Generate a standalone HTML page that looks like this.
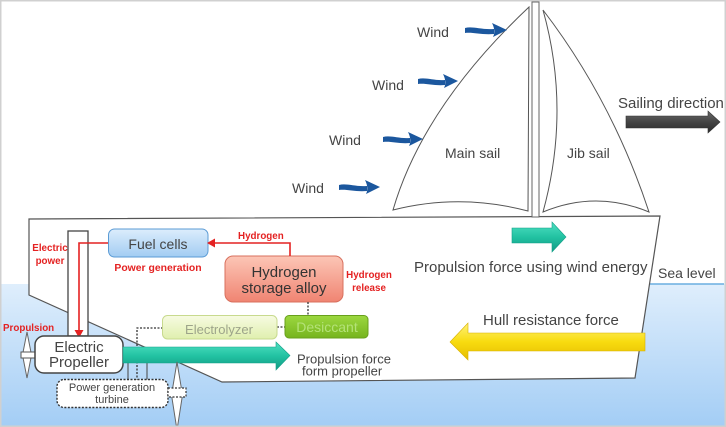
<!DOCTYPE html>
<html><head><meta charset="utf-8"><style>
html,body{margin:0;padding:0;background:#fff;}
svg{display:block;}
text{font-family:"Liberation Sans",sans-serif;}
</style></head><body>
<svg width="726" height="427" viewBox="0 0 726 427" xmlns="http://www.w3.org/2000/svg">
<defs>
<linearGradient id="water" x1="0" y1="0" x2="0" y2="1">
<stop offset="0" stop-color="#dfeefc"/><stop offset="1" stop-color="#a3cdf5"/></linearGradient>
<linearGradient id="teal" x1="0" y1="0" x2="0" y2="1">
<stop offset="0" stop-color="#4fe0c2"/><stop offset="0.5" stop-color="#22c2a2"/><stop offset="1" stop-color="#119a84"/></linearGradient>
<linearGradient id="yel" x1="0" y1="0" x2="0" y2="1">
<stop offset="0" stop-color="#fff27a"/><stop offset="0.5" stop-color="#f8dc10"/><stop offset="1" stop-color="#e6bd00"/></linearGradient>
<linearGradient id="dark" x1="0" y1="0" x2="0" y2="1">
<stop offset="0" stop-color="#6a6a6a"/><stop offset="0.5" stop-color="#444"/><stop offset="1" stop-color="#2a2a2a"/></linearGradient>
<linearGradient id="fc" x1="0" y1="0" x2="0" y2="1">
<stop offset="0" stop-color="#dcedfc"/><stop offset="1" stop-color="#a2ccf2"/></linearGradient>
<linearGradient id="hs" x1="0" y1="0" x2="0" y2="1">
<stop offset="0" stop-color="#fcc6b6"/><stop offset="1" stop-color="#f08472"/></linearGradient>
<linearGradient id="el" x1="0" y1="0" x2="0" y2="1">
<stop offset="0" stop-color="#f7fbe2"/><stop offset="1" stop-color="#e0efae"/></linearGradient>
<linearGradient id="de" x1="0" y1="0" x2="0" y2="1">
<stop offset="0" stop-color="#9cd840"/><stop offset="1" stop-color="#76b41e"/></linearGradient>
</defs>

<!-- water -->
<rect x="0" y="284" width="726" height="143" fill="url(#water)"/>
<line x1="649" y1="284" x2="724" y2="284" stroke="#6aaee0" stroke-width="1.5"/>

<!-- hull -->
<polygon points="29,219 660,216 635,378 222,382 29,295" fill="#fff" stroke="#555" stroke-width="1.2"/>

<!-- mast -->
<rect x="532" y="2" width="7" height="215" fill="#fff" stroke="#666" stroke-width="1"/>

<!-- main sail -->
<path d="M529,7 Q423,107 393,210 Q460,193 528,211 Z" fill="#fff" stroke="#555" stroke-width="1"/>
<!-- jib sail -->
<path d="M543,10 Q612,100 649,212 Q596,190 543,212 Q571,110 543,10 Z" fill="#fff" stroke="#555" stroke-width="1"/>

<!-- wind arrows -->
<g fill="#1b579e" stroke="none">
<g transform="translate(465,30)">
<path d="M0,-2 C8,-4 16,0 29,-1 L29,4 C16,5 8,2 0,3 Z"/>
<path d="M27,-7 L42,0 L28,7 Q31,1 27,-7 Z"/>
</g>
<g transform="translate(418,81)">
<path d="M0,-2 C8,-4 16,0 27,-1 L27,4 C16,5 8,2 0,3 Z"/>
<path d="M25,-7 L40,0 L26,7 Q29,1 25,-7 Z"/>
</g>
<g transform="translate(383,139)">
<path d="M0,-2 C8,-4 16,0 27,-1 L27,4 C16,5 8,2 0,3 Z"/>
<path d="M25,-7 L40,0 L26,7 Q29,1 25,-7 Z"/>
</g>
<g transform="translate(339,187)">
<path d="M0,-2 C8,-4 16,0 28,-1 L28,4 C16,5 8,2 0,3 Z"/>
<path d="M26,-7 L41,0 L27,7 Q30,1 26,-7 Z"/>
</g>
</g>

<g fill="#444" font-size="14">
<text x="417" y="37">Wind</text>
<text x="372" y="90">Wind</text>
<text x="329" y="145">Wind</text>
<text x="292" y="193">Wind</text>
<text x="445" y="158">Main sail</text>
<text x="567" y="158">Jib sail</text>
<text x="658" y="278">Sea level</text>
</g>
<text x="618" y="108" font-size="15" fill="#444">Sailing direction</text>
<polygon points="626,116 708,116 708,111 720,122 708,133 708,128 626,128" fill="url(#dark)" stroke="#333" stroke-width="0.6"/>

<!-- wind propulsion teal arrow -->
<polygon points="512,228 552,228 552,222 566,237 552,252 552,243 512,243" fill="url(#teal)" stroke="#13a088" stroke-width="0.6"/>
<text x="414" y="272" font-size="15" fill="#444">Propulsion force using wind energy</text>

<!-- hull resistance -->
<text x="483" y="325" font-size="15" fill="#444">Hull resistance force</text>
<polygon points="645,333 468,333 468,323 450,342 468,360 468,351 645,351" fill="url(#yel)" stroke="#d8b000" stroke-width="0.6"/>

<!-- pipe -->
<rect x="68" y="231" width="20" height="105" fill="#fff" stroke="#444" stroke-width="1.3"/>

<!-- fuel cells -->
<rect x="108.5" y="229" width="99.5" height="28" rx="6" fill="url(#fc)" stroke="#5b9bd5" stroke-width="1"/>
<text x="158" y="249" font-size="14" fill="#444" text-anchor="middle">Fuel cells</text>

<!-- hydrogen storage -->
<rect x="225" y="256" width="118" height="46" rx="8" fill="url(#hs)" stroke="#d8705e" stroke-width="1"/>
<text x="284" y="277" font-size="15" fill="#333" text-anchor="middle">Hydrogen</text>
<text x="284" y="293" font-size="15" fill="#333" text-anchor="middle">storage alloy</text>

<!-- dotted connectors -->
<g fill="none" stroke="#333" stroke-width="1.3" stroke-dasharray="2 1.5">
<path d="M163,328 H137 V381"/>
<path d="M277,327 H285"/>
<path d="M308,302 V315"/>
</g>
<g stroke="#444" stroke-width="1" fill="none">
<line x1="128" y1="362" x2="128" y2="380"/>
<line x1="147" y1="362" x2="147" y2="380"/>
</g>

<!-- electrolyzer -->
<rect x="162.5" y="315.5" width="114.5" height="23.5" rx="5" fill="url(#el)" stroke="#c8da8e" stroke-width="1"/>
<text x="219" y="334" font-size="13" fill="#9da48a" text-anchor="middle">Electrolyzer</text>
<!-- desiccant -->
<rect x="285" y="315.5" width="83" height="22.5" rx="4" fill="url(#de)" stroke="#68a01c" stroke-width="1"/>
<text x="327" y="332" font-size="14" fill="#b4e278" text-anchor="middle">Desiccant</text>

<!-- red connectors -->
<g stroke="#e42222" stroke-width="1.6" fill="none">
<path d="M290,256 V243 H214"/>
<path d="M108,243 H79 V331"/>
</g>
<polygon points="207,243 215,238.5 215,247.5" fill="#e42222"/>
<polygon points="79,338 74.5,330 83.5,330" fill="#e42222"/>

<!-- red labels -->
<g fill="#e42222" font-weight="bold" font-size="9.8">
<text x="238" y="239">Hydrogen</text>
<text x="369" y="278" text-anchor="middle">Hydrogen</text>
<text x="369" y="291" text-anchor="middle">release</text>
<text x="50" y="251" text-anchor="middle">Electric</text>
<text x="50" y="264" text-anchor="middle">power</text>
<text x="3" y="331">Propulsion</text>
<text x="158" y="271" text-anchor="middle" font-size="10.4">Power generation</text>
</g>

<!-- left propeller -->
<path d="M27,332 L31.5,355 L27,378 L22.5,355 Z" fill="#fff" stroke="#666" stroke-width="1"/>
<rect x="21" y="352" width="14" height="6" fill="#fff" stroke="#555" stroke-width="1"/>

<!-- electric propeller box -->
<rect x="35" y="336" width="88" height="37" rx="9" fill="#fff" stroke="#444" stroke-width="1.5"/>
<text x="79" y="352" font-size="15" fill="#444" text-anchor="middle">Electric</text>
<text x="79" y="367" font-size="15" fill="#444" text-anchor="middle">Propeller</text>

<!-- teal propeller arrow -->
<polygon points="123,347 276,347 276,342 290,355.5 276,370 276,363 123,363" fill="url(#teal)" stroke="#13a088" stroke-width="0.6"/>
<text x="297" y="363.5" font-size="13" fill="#444">Propulsion force</text>
<text x="302" y="375.5" font-size="13" fill="#444">form propeller</text>

<!-- turbine -->
<rect x="57" y="379.5" width="111" height="28" rx="7" fill="#fff" stroke="#333" stroke-width="1.4" stroke-dasharray="2 1.5"/>
<text x="112" y="391" font-size="11" fill="#444" text-anchor="middle">Power generation</text>
<text x="112" y="403" font-size="11" fill="#444" text-anchor="middle">turbine</text>
<path d="M177,362 L182.5,395 L177,430 L171.5,395 Z" fill="#fff" stroke="#666" stroke-width="1"/>
<rect x="168" y="388" width="18" height="9" fill="#fff" stroke="#333" stroke-width="1.2" stroke-dasharray="2 1.5"/>

<!-- frame -->
<rect x="0.75" y="0.75" width="724.5" height="425.5" fill="none" stroke="#d0d0d0" stroke-width="1.5"/>
</svg>
</body></html>
